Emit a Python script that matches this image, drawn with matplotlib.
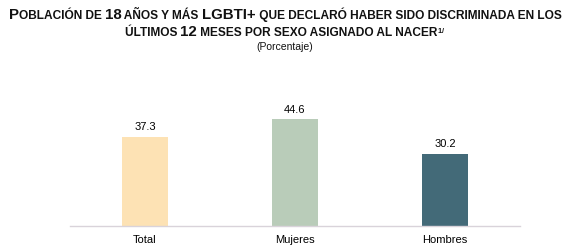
import matplotlib
matplotlib.use("Agg")
import matplotlib.pyplot as plt
from matplotlib.offsetbox import TextArea, HPacker, AnchoredOffsetbox

categories = ["Total", "Mujeres", "Hombres"]
values = [37.3, 44.6, 30.2]
colors = ["#FDE2B4", "#B9CCB9", "#436A78"]

plt.rcParams['font.family'] = ['Liberation Sans', 'DejaVu Sans']
plt.rcParams['mathtext.fontset'] = 'custom'
plt.rcParams['mathtext.rm'] = 'Liberation Sans'
plt.rcParams['mathtext.bf'] = 'Liberation Sans:bold'

fig = plt.figure(figsize=(5.68, 2.51), dpi=100)
ax = fig.add_axes([70/568, 24/251, 450/568, 0.4765])

x = range(len(categories))
ax.bar(x, values, width=0.31, color=colors, zorder=2)
for xi, v in zip(x, values):
    ax.text(xi, v + 2.3, f"{v:.1f}", ha="center", va="bottom", fontsize=8, color="#000000")

ax.set_xlim(-0.5, 2.5)
ax.set_ylim(0, 50)
ax.set_xticks(list(x))
ax.set_xticklabels(categories, fontsize=8)
ax.tick_params(axis="x", length=0, pad=6)
ax.set_yticks([])
for s in ["top", "right", "left"]:
    ax.spines[s].set_visible(False)
ax.spines["bottom"].set_color("#D9D3DA")
ax.spines["bottom"].set_linewidth(1.0)

BIG = 10.8
SMALL = 8.6

def piece(t, size):
    return TextArea(t, textprops=dict(fontsize=size, fontweight="bold", color="#111111"))

def line(pieces, ycenter):
    boxes = [piece(t, s) for t, s in pieces]
    pk = HPacker(children=boxes, align="baseline", pad=0, sep=0)
    ab = AnchoredOffsetbox(loc="center", child=pk, pad=0, frameon=False,
                           bbox_to_anchor=(285/568, 1 - ycenter/251),
                           bbox_transform=fig.transFigure, borderpad=0)
    fig.add_artist(ab)

line([("P", BIG), ("OBLACIÓN DE ", SMALL), ("18", BIG), (" AÑOS Y MÁS ", SMALL),
      ("LGBTI+", BIG), (" QUE DECLARÓ HABER SIDO DISCRIMINADA EN LOS", SMALL)], 15)
line([("ÚLTIMOS ", SMALL), ("12", BIG), (" MESES POR SEXO ASIGNADO AL NACER", SMALL),
      (r"$^{\mathbf{1/}}$", 7.5)], 32)
fig.text(285/568, 1 - 47/251, "(Porcentaje)", ha="center", va="center", fontsize=7.5, color="#111111")

fig.savefig("out.png", dpi=100)
